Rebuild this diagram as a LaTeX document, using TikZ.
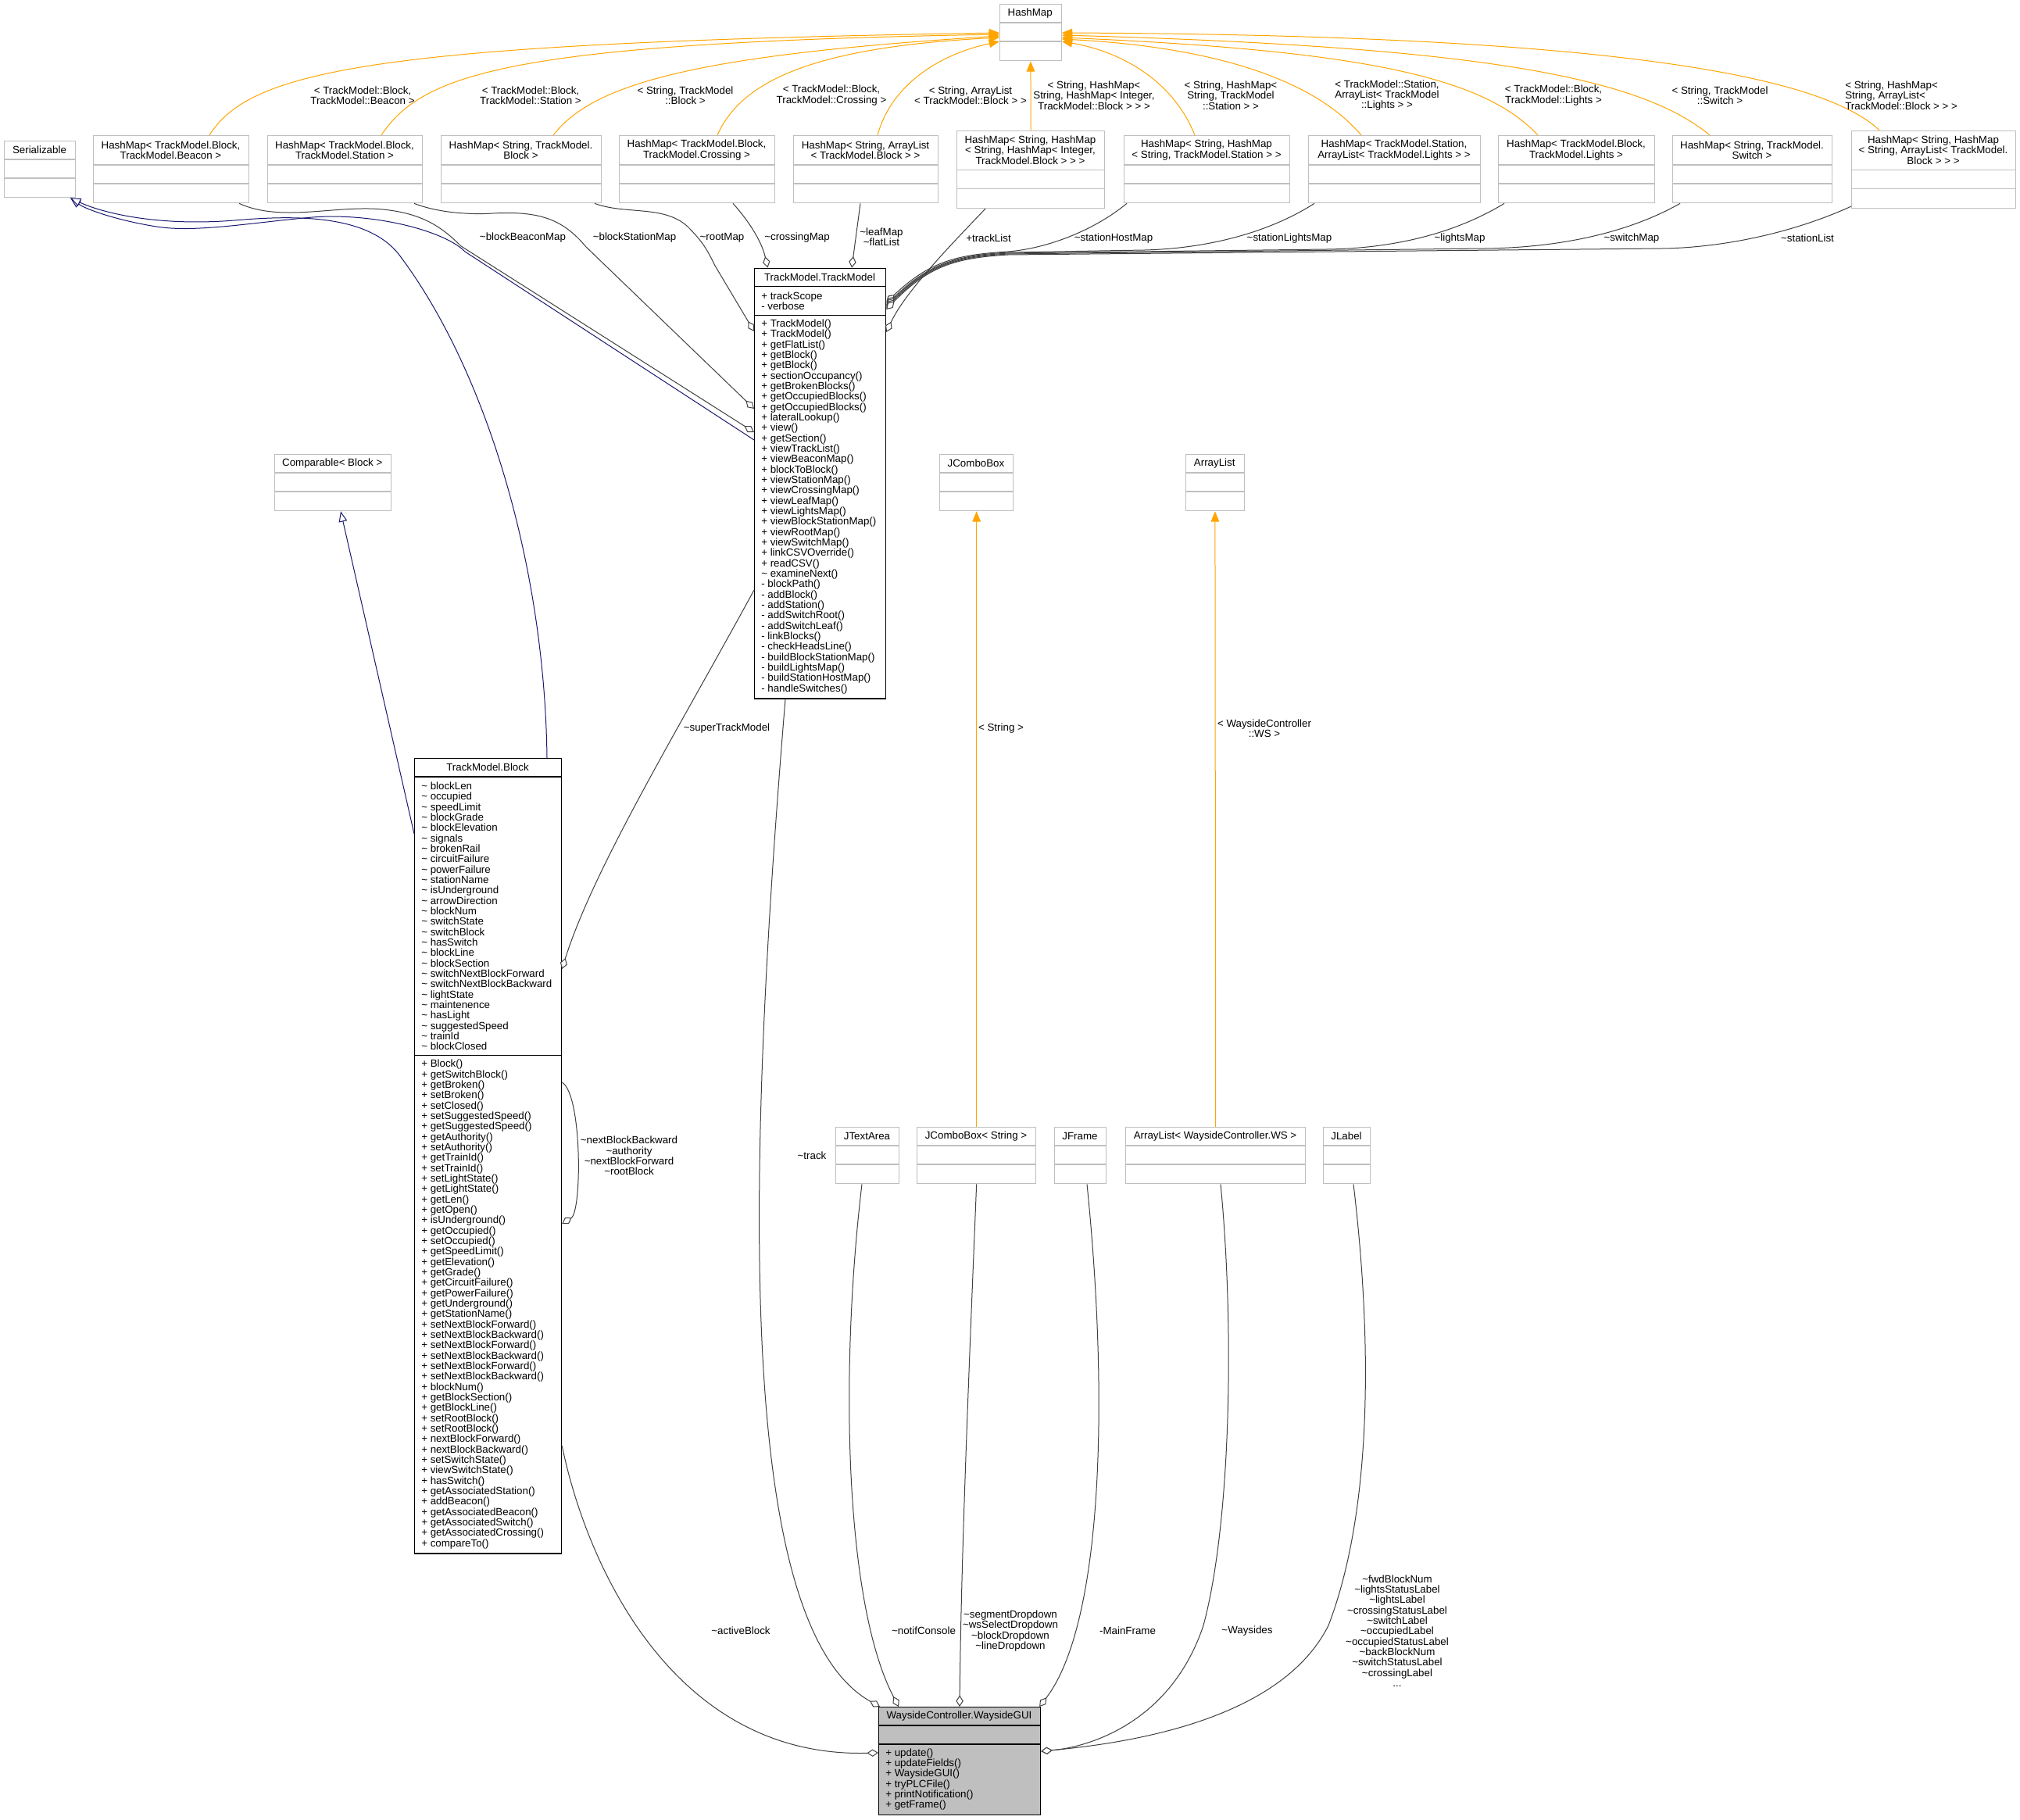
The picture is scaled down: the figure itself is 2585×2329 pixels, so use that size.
\documentclass[tikz,border=0pt]{standalone}
\usepackage{fontspec}
\setmainfont{Liberation Sans}
\usetikzlibrary{arrows.meta,calc}
\definecolor{extgray}{HTML}{BFBFBF}
\definecolor{edgegray}{HTML}{404040}
\definecolor{tmplorange}{HTML}{FFA500}
\definecolor{inhblue}{HTML}{191970}
\newcommand\tld{\textasciitilde}
\newcommand\cbox[9]{%
  \def\bxn{#1}\def\bxx{#4}\def\bxy{#5}\def\bxw{#6}\def\bxa{#7}\def\bxb{#8}\def\bxc{#9}%
  \node[#2, anchor=north west, minimum width=#6*0.75pt, minimum height=(#7+#8+#9)*0.75pt] (#1) at (#4,#5) {};
  \draw[#3] (#4,#5+#7) -- (#4+#6,#5+#7);
  \draw[#3] (#4,#5+#7+#8) -- (#4+#6,#5+#7+#8);
}
\newcommand\ctitle[1]{\node[lbl,align=center] (\bxn-t) at (\bxx+\bxw/2,\bxy+\bxa/2) {#1};}
\newcommand\cattr[1]{\node[lbl,anchor=west,align=left] (\bxn-a) at (\bxx+9,\bxy+\bxa+\bxb/2) {#1};}
\newcommand\cmeth[1]{\node[lbl,anchor=west,align=left] (\bxn-m) at (\bxx+9,\bxy+\bxa+\bxb+\bxc/2) {#1};}
\tikzset{
  lbl/.style={inner sep=0pt, font=\fontsize{10}{10}\selectfont},
  extbox/.style={draw=extgray, line width=1pt, fill=white, inner sep=0pt},
  extline/.style={draw=extgray, line width=1pt},
  docbox/.style={draw=black, line width=0.9pt, fill=white, inner sep=0pt},
  docline/.style={draw=black, line width=0.9pt},
  guibox/.style={draw=black, line width=0.9pt, fill=extgray, inner sep=0pt},
  tmpl/.style={draw=tmplorange, line width=0.75pt, -{Triangle[length=10pt,width=8pt]}},
  inh/.style={draw=inhblue, line width=0.75pt, -{Triangle[length=10pt,width=8pt,fill=white]}},
  uses/.style={draw=edgegray, line width=0.75pt, -{Diamond[length=11pt,width=7pt,fill=white]}},
}
\begin{document}
\begin{tikzpicture}[x=0.75pt,y=-0.75pt]
\fill[white] (0,0) rectangle (2585,2329);
\useasboundingbox (0,0) rectangle (2585,2329);

% ---------- boxes ----------
\cbox{hm}{extbox}{extline}{1279}{5}{78.5}{24}{24}{24}
\ctitle{HashMap}
\cbox{ser}{extbox}{extline}{5}{180}{91}{24}{24}{24}
\ctitle{Serializable}
\cbox{hmb}{extbox}{extline}{119}{173}{199}{38}{24}{24}
\ctitle{HashMap< TrackModel.Block,\\TrackModel.Beacon >}
\cbox{hms}{extbox}{extline}{342}{173}{198}{38}{24}{24}
\ctitle{HashMap< TrackModel.Block,\\TrackModel.Station >}
\cbox{hsb}{extbox}{extline}{564}{173}{205}{38}{24}{24}
\ctitle{HashMap< String, TrackModel.\\Block >}
\cbox{hbc}{extbox}{extline}{792}{173}{199}{38}{24}{24}
\ctitle{HashMap< TrackModel.Block,\\TrackModel.Crossing >}
\cbox{hal}{extbox}{extline}{1015}{173}{185}{38}{24}{24}
\ctitle{HashMap< String, ArrayList\\< TrackModel.Block > >}
\cbox{hhh}{extbox}{extline}{1224}{166.7}{189}{51}{24}{24}
\ctitle{HashMap< String, HashMap\\< String, HashMap< Integer,\\TrackModel.Block > > >}
\cbox{hst}{extbox}{extline}{1438}{173}{212}{38}{24}{24}
\ctitle{HashMap< String, HashMap\\< String, TrackModel.Station > >}
\cbox{hsl}{extbox}{extline}{1674}{173}{220}{38}{24}{24}
\ctitle{HashMap< TrackModel.Station,\\ArrayList< TrackModel.Lights > >}
\cbox{hbl}{extbox}{extline}{1917}{173}{200}{38}{24}{24}
\ctitle{HashMap< TrackModel.Block,\\TrackModel.Lights >}
\cbox{hsw}{extbox}{extline}{2140}{173}{204}{38}{24}{24}
\ctitle{HashMap< String, TrackModel.\\Switch >}
\cbox{hsa}{extbox}{extline}{2369}{166.7}{210}{51}{24}{24}
\ctitle{HashMap< String, HashMap\\< String, ArrayList< TrackModel.\\Block > > >}

\cbox{tm}{docbox}{docline}{965}{342.6}{168}{24}{36.7}{490}
\ctitle{TrackModel.TrackModel}
\cattr{+ trackScope\\- verbose}
\cmeth{+ TrackModel()\\+ TrackModel()\\+ getFlatList()\\+ getBlock()\\+ getBlock()\\+ sectionOccupancy()\\+ getBrokenBlocks()\\+ getOccupiedBlocks()\\+ getOccupiedBlocks()\\+ lateralLookup()\\+ view()\\+ getSection()\\+ viewTrackList()\\+ viewBeaconMap()\\+ blockToBlock()\\+ viewStationMap()\\+ viewCrossingMap()\\+ viewLeafMap()\\+ viewLightsMap()\\+ viewBlockStationMap()\\+ viewRootMap()\\+ viewSwitchMap()\\+ linkCSVOverride()\\+ readCSV()\\\tld{} examineNext()\\- blockPath()\\- addBlock()\\- addStation()\\- addSwitchRoot()\\- addSwitchLeaf()\\- linkBlocks()\\- checkHeadsLine()\\- buildBlockStationMap()\\- buildLightsMap()\\- buildStationHostMap()\\- handleSwitches()}

\cbox{cmp}{extbox}{extline}{351}{581}{148.5}{24}{24}{24}
\ctitle{Comparable< Block >}
\cbox{jcb}{extbox}{extline}{1202}{581}{94}{24}{24}{24}
\ctitle{JComboBox}
\cbox{al}{extbox}{extline}{1517}{581}{74.5}{24}{24}{24}
\ctitle{ArrayList}

\cbox{blk}{docbox}{docline}{530}{970}{188}{24}{356.7}{636.7}
\ctitle{TrackModel.Block}
\cattr{\tld{} blockLen\\\tld{} occupied\\\tld{} speedLimit\\\tld{} blockGrade\\\tld{} blockElevation\\\tld{} signals\\\tld{} brokenRail\\\tld{} circuitFailure\\\tld{} powerFailure\\\tld{} stationName\\\tld{} isUnderground\\\tld{} arrowDirection\\\tld{} blockNum\\\tld{} switchState\\\tld{} switchBlock\\\tld{} hasSwitch\\\tld{} blockLine\\\tld{} blockSection\\\tld{} switchNextBlockForward\\\tld{} switchNextBlockBackward\\\tld{} lightState\\\tld{} maintenence\\\tld{} hasLight\\\tld{} suggestedSpeed\\\tld{} trainId\\\tld{} blockClosed}
\cmeth{+ Block()\\+ getSwitchBlock()\\+ getBroken()\\+ setBroken()\\+ setClosed()\\+ setSuggestedSpeed()\\+ getSuggestedSpeed()\\+ getAuthority()\\+ setAuthority()\\+ getTrainId()\\+ setTrainId()\\+ setLightState()\\+ getLightState()\\+ getLen()\\+ getOpen()\\+ isUnderground()\\+ getOccupied()\\+ setOccupied()\\+ getSpeedLimit()\\+ getElevation()\\+ getGrade()\\+ getCircuitFailure()\\+ getPowerFailure()\\+ getUnderground()\\+ getStationName()\\+ setNextBlockForward()\\+ setNextBlockBackward()\\+ setNextBlockForward()\\+ setNextBlockBackward()\\+ setNextBlockForward()\\+ setNextBlockBackward()\\+ blockNum()\\+ getBlockSection()\\+ getBlockLine()\\+ setRootBlock()\\+ setRootBlock()\\+ nextBlockForward()\\+ nextBlockBackward()\\+ setSwitchState()\\+ viewSwitchState()\\+ hasSwitch()\\+ getAssociatedStation()\\+ addBeacon()\\+ getAssociatedBeacon()\\+ getAssociatedSwitch()\\+ getAssociatedCrossing()\\+ compareTo()}

\cbox{jta}{extbox}{extline}{1069}{1442}{81}{24}{24}{24}
\ctitle{JTextArea}
\cbox{jcs}{extbox}{extline}{1173}{1442}{152}{24}{24}{24}
\ctitle{JComboBox< String >}
\cbox{jfr}{extbox}{extline}{1349}{1442}{66}{24}{24}{24}
\ctitle{JFrame}
\cbox{alw}{extbox}{extline}{1440}{1442}{230}{24}{24}{24}
\ctitle{ArrayList< WaysideController.WS >}
\cbox{jlb}{extbox}{extline}{1693}{1442}{60}{24}{24}{24}
\ctitle{JLabel}

\cbox{gui}{guibox}{docline}{1124}{2184}{207}{24}{24}{90}
\ctitle{WaysideController.WaysideGUI}
\cmeth{+ update()\\+ updateFields()\\+ WaysideGUI()\\+ tryPLCFile()\\+ printNotification()\\+ getFrame()}

% ---------- template instance edges (orange) ----------
\draw[tmpl] ($(hmb.north west)+(149,0)$) .. controls (320,90) and (480,55) .. ($(hm.north west)+(0,37)$);
\draw[tmpl] ($(hms.north west)+(146,0)$) .. controls (540,95) and (650,55) .. ($(hm.north west)+(0,39)$);
\draw[tmpl] ($(hsb.north west)+(144,0)$) .. controls (760,105) and (900,70) .. ($(hm.north west)+(0,41)$);
\draw[tmpl] ($(hbc.north west)+(126,0)$) .. controls (950,100) and (1050,60) .. ($(hm.north west)+(0,43)$);
\draw[tmpl] ($(hal.north west)+(108,0)$) .. controls (1140,110) and (1200,70) .. ($(hm.north west)+(0,48)$);
\draw[tmpl] (hhh.north) -- (hm.south);
\draw[tmpl] ($(hst.north west)+(91,0)$) .. controls (1500,100) and (1430,65) .. ($(hm.north east)+(0,48)$);
\draw[tmpl] ($(hsl.north west)+(68,0)$) .. controls (1680,100) and (1550,60) .. ($(hm.north east)+(0,45)$);
\draw[tmpl] ($(hbl.north west)+(51,0)$) .. controls (1900,100) and (1750,65) .. ($(hm.north east)+(0,43)$);
\draw[tmpl] ($(hsw.north west)+(48,0)$) .. controls (2100,100) and (1900,60) .. ($(hm.north east)+(0,40)$);
\draw[tmpl] ($(hsa.north west)+(36,0)$) .. controls (2330,95) and (2050,45) .. ($(hm.north east)+(0,37)$);
\draw[tmpl] (jcs.north) -- (jcb.south);
\draw[tmpl] (alw.north) -- (al.south);

\node[lbl,align=center] (l1) at (464,122) {< TrackModel::Block,\\TrackModel::Beacon >};
\node[lbl,align=center] (l2) at (679,122) {< TrackModel::Block,\\TrackModel::Station >};
\node[lbl,align=center] (l3) at (877,122) {< String, TrackModel\\::Block >};
\node[lbl,align=center] (l4) at (1064,122) {< TrackModel::Block,\\TrackModel::Crossing >};
\node[lbl,align=center] (l5) at (1242,122) {< String, ArrayList\\< TrackModel::Block > >};
\node[lbl,align=center] (l6) at (1400,122) {< String, HashMap<\\String, HashMap< Integer,\\TrackModel::Block > > >};
\node[lbl,align=center] (l7) at (1575,122) {< String, HashMap<\\String, TrackModel\\::Station > >};
\node[lbl,align=center] (l8) at (1775,122) {< TrackModel::Station,\\ArrayList< TrackModel\\::Lights > >};
\node[lbl,align=center] (l9) at (1988,122) {< TrackModel::Block,\\TrackModel::Lights >};
\node[lbl,align=center] (l10) at (2201,122) {< String, TrackModel\\::Switch >};
\node[lbl,align=left,anchor=west] (l11) at (2361,122) {< String, HashMap<\\String, ArrayList<\\TrackModel::Block > > >};
\node[lbl] (l12) at (1281,932) {< String >};
\node[lbl,align=center] (l13) at (1618,932) {< WaysideController\\::WS >};

% ---------- inheritance (blue) ----------
\draw[inh] ($(tm.north west)+(0,220.4)$) -- (595,322) .. controls (570,296) and (480,272) .. (400,278) .. controls (320,285) and (250,298) .. (200,290) .. controls (150,282) and (110,268) .. ($(ser.south west)+(85,0)$);
\draw[inh] ($(blk.north west)+(170,0)$) .. controls (697,720) and (620,470) .. (510,325) .. controls (470,275) and (380,275) .. (300,282) .. controls (200,290) and (130,272) .. ($(ser.south west)+(85,0)$);
\draw[inh] ($(blk.north west)+(0,97)$) -- ($(cmp.south west)+(85,0)$);

% ---------- usage edges to TrackModel ----------
\draw[uses] ($(hmb.south west)+(187,0)$) .. controls (360,285) and (430,262) .. (490,268) .. controls (540,273) and (565,290) .. (590,315) -- ($(tm.north west)+(0,210.4)$);
\draw[uses] ($(hms.south west)+(188,0)$) .. controls (560,272) and (600,275) .. (631,273) .. controls (690,270) and (720,280) .. (750,316) -- ($(tm.north west)+(0,180.4)$);
\draw[uses] ($(hsb.south west)+(197,0)$) .. controls (800,275) and (850,262) .. (880,290) .. controls (900,310) and (905,320) .. (915,340) -- ($(tm.north west)+(0,81.4)$);
\draw[uses] ($(hbc.south west)+(146,0)$) .. controls (960,285) and (975,310) .. ($(tm.north west)+(17.4,0)$);
\draw[uses] ($(hal.south west)+(86,0)$) -- ($(tm.north west)+(125,0)$);
\draw[uses] ($(hhh.south west)+(37,0)$) .. controls (1230,300) and (1160,370) .. ($(tm.north east)+(0,82.4)$);
\draw[uses] ($(hst.south west)+(4,0)$) .. controls (1400,295) and (1340,318) .. (1290,322) .. controls (1225,326) and (1190,334) .. ($(tm.north east)+(0,44.4)$);
\draw[uses] ($(hsl.south west)+(8,0)$) .. controls (1620,300) and (1540,318) .. (1465,320) -- (1290,323) .. controls (1225,327) and (1190,336) .. ($(tm.north east)+(0,47.4)$);
\draw[uses] ($(hbl.south west)+(8,0)$) .. controls (1860,300) and (1780,318) .. (1698,319) -- (1290,324) .. controls (1225,328) and (1190,337) .. ($(tm.north east)+(0,49.4)$);
\draw[uses] ($(hsw.south west)+(10,0)$) .. controls (2080,300) and (1990,317) .. (1900,318) -- (1290,325) .. controls (1225,329) and (1190,338) .. ($(tm.north east)+(0,51.4)$);
\draw[uses] ($(hsa.south west)+(0,-3)$) .. controls (2290,300) and (2200,317) .. (2127,318) -- (1290,326) .. controls (1225,330) and (1190,339) .. ($(tm.north east)+(0,53.4)$);

\node[lbl] (e1) at (669,304) {\tld blockBeaconMap};
\node[lbl] (e2) at (812,304) {\tld blockStationMap};
\node[lbl] (e3) at (924,304) {\tld rootMap};
\node[lbl] (e4) at (1020,304) {\tld crossingMap};
\node[lbl,align=center] (e5) at (1128,303) {\tld leafMap\\\tld flatList};
\node[lbl] (e6) at (1265,305) {+trackList};
\node[lbl] (e7) at (1425,305) {\tld stationHostMap};
\node[lbl] (e8) at (1650,305) {\tld stationLightsMap};
\node[lbl] (e9) at (1868,305) {\tld lightsMap};
\node[lbl] (e10) at (2088,305) {\tld switchMap};
\node[lbl] (e11) at (2313,305) {\tld stationList};

% ---------- Block edges ----------
\draw[uses] ($(blk.north east)+(0,415)$) .. controls (745,1400) and (745,1550) .. ($(blk.north east)+(0,596)$);
\node[lbl,align=center] (e12) at (805,1479) {\tld nextBlockBackward\\\tld authority\\\tld nextBlockForward\\\tld rootBlock};
\draw[uses] ($(tm.north west)+(0,412.4)$) .. controls (870,930) and (760,1110) .. ($(blk.north east)+(0,270)$);
\node[lbl] (e13) at (930,932) {\tld superTrackModel};

% ---------- edges to WaysideGUI ----------
\draw[uses] ($(blk.north east)+(0,880)$) .. controls (750,2000) and (860,2250) .. ($(gui.north west)+(0,59)$);
\node[lbl] (e14) at (948,2087) {\tld activeBlock};
\draw[uses] ($(tm.south west)+(40,0)$) .. controls (955,1500) and (940,2080) .. ($(gui.north west)+(2,0)$);
\node[lbl] (e15) at (1039,1479) {\tld track};
\draw[uses] ($(jta.south west)+(34,0)$) .. controls (1075,1750) and (1080,2050) .. ($(gui.north west)+(26,0)$);
\node[lbl] (e16) at (1182,2087) {\tld notifConsole};
\draw[uses] (jcs.south) .. controls (1238,1800) and (1230,2000) .. ($(gui.north west)+(104,0)$);
\node[lbl,align=center] (e17) at (1293,2087) {\tld segmentDropdown\\\tld wsSelectDropdown\\\tld blockDropdown\\\tld lineDropdown};
\draw[uses] ($(jfr.south west)+(42,0)$) .. controls (1420,1800) and (1410,2080) .. ($(gui.north east)+(-2,0)$);
\node[lbl] (e18) at (1443,2087) {-MainFrame};
\draw[uses] ($(alw.south west)+(122,0)$) .. controls (1580,1700) and (1575,1950) .. (1540,2080) .. controls (1500,2200) and (1400,2235) .. ($(gui.north east)+(0,57)$);
\node[lbl] (e19) at (1596,2087) {\tld Waysides};
\draw[uses] ($(jlb.south west)+(39,0)$) .. controls (1760,1750) and (1750,1950) .. (1700,2080) .. controls (1640,2200) and (1450,2230) .. ($(gui.north east)+(0,57)$);
\node[lbl,align=center] (e20) at (1788,2087) {\tld fwdBlockNum\\\tld lightsStatusLabel\\\tld lightsLabel\\\tld crossingStatusLabel\\\tld switchLabel\\\tld occupiedLabel\\\tld occupiedStatusLabel\\\tld backBlockNum\\\tld switchStatusLabel\\\tld crossingLabel\\...};
\end{tikzpicture}
\end{document}
